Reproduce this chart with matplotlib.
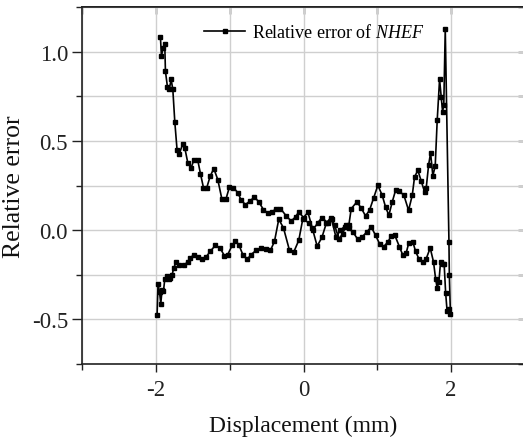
import matplotlib
matplotlib.use("Agg")
import matplotlib.pyplot as plt
from matplotlib.ticker import MultipleLocator, FormatStrFormatter
import numpy as np

plt.rcParams["font.family"] = ["Liberation Serif", "DejaVu Serif"]
plt.rcParams["mathtext.fontset"] = "custom"
plt.rcParams["mathtext.rm"] = "Liberation Serif"
plt.rcParams["mathtext.it"] = "Liberation Serif:italic"
plt.rcParams["axes.unicode_minus"] = False

# Forward sweep (-2 mm -> +2 mm)
forward_x = [-1.938, -1.924, -1.901, -1.879, -1.870, -1.843, -1.816, -1.793, -1.770,
             -1.743, -1.712, -1.680, -1.635, -1.608, -1.567, -1.522, -1.486, -1.432,
             -1.396, -1.355, -1.310, -1.264, -1.215, -1.161, -1.107, -1.048, -1.003,
             -0.949, -0.890, -0.844, -0.786, -0.722, -0.664, -0.606, -0.542, -0.484,
             -0.424, -0.370, -0.312, -0.235, -0.167, -0.108, -0.064,
             0.000, 0.060, 0.120, 0.185, 0.250, 0.310, 0.370, 0.420, 0.480, 0.530,
             0.580, 0.615, 0.646, 0.723, 0.781, 0.840, 0.894, 0.949, 1.007, 1.066,
             1.111, 1.156, 1.202, 1.247, 1.300, 1.360, 1.423, 1.473, 1.504, 1.549,
             1.595, 1.640, 1.662, 1.694, 1.721, 1.752, 1.784, 1.811, 1.843, 1.865,
             1.884, 1.900, 1.920]
forward_err = [1.083, 0.976, 1.021, 1.040, 0.890, 0.803, 0.793, 0.844, 0.789,
               0.606, 0.447, 0.429, 0.485, 0.461, 0.377, 0.349, 0.391, 0.391,
               0.317, 0.238, 0.238, 0.302, 0.345, 0.283, 0.177, 0.177, 0.242,
               0.238, 0.210, 0.167, 0.143, 0.164, 0.186, 0.158, 0.115, 0.096,
               0.102, 0.121, 0.121, 0.080, 0.051, 0.074, 0.102,
               0.070, 0.100, 0.010, -0.090, -0.040, 0.040, 0.070, 0.030, -0.050, -0.020,
               0.030, 0.030, 0.120, 0.158, 0.124, 0.080, 0.111, 0.180, 0.251, 0.195,
               0.130, 0.083, 0.158, 0.223, 0.218, 0.195, 0.111, 0.195, 0.298, 0.335,
               0.274, 0.214, 0.236, 0.363, 0.433, 0.304, 0.360, 0.616, 0.845, 0.746,
               0.663, 0.703, 1.126]

# Return sweep (+2 mm -> -2 mm)
return_x = [1.970, 1.975, 1.990, 1.965, 1.945, 1.925, 1.905, 1.888, 1.856, 1.834,
            1.810, 1.789, 1.761, 1.716, 1.662, 1.617, 1.562, 1.518, 1.481, 1.427,
            1.392, 1.346, 1.300, 1.233, 1.188, 1.143, 1.084, 1.030, 0.976, 0.917,
            0.858, 0.795, 0.736, 0.668, 0.610, 0.556, 0.500, 0.440, 0.380, 0.330,
            0.250, 0.190, 0.130, 0.070, -0.009,
            -0.064, -0.131, -0.190, -0.271, -0.335, -0.393, -0.447, -0.505, -0.573,
            -0.641, -0.709, -0.763, -0.822, -0.877, -0.921, -0.966, -1.026, -1.070,
            -1.129, -1.192, -1.264, -1.318, -1.373, -1.432, -1.486, -1.531, -1.567,
            -1.622, -1.680, -1.725, -1.757, -1.779, -1.802, -1.825, -1.852, -1.879,
            -1.897, -1.916, -1.933, -1.950, -1.970, -1.983]
return_err = [-0.066, -0.250, -0.468, -0.440, -0.455, -0.350, -0.190, -0.188, -0.178, -0.290,
              -0.324, -0.272, -0.178, -0.100, -0.160, -0.178, -0.160, -0.119, -0.066, -0.070,
              -0.126, -0.141, -0.094, -0.025, -0.033, -0.066, -0.094, -0.076, -0.029, 0.018,
              -0.010, -0.038, -0.052, -0.010, 0.010, 0.020, 0.000, -0.040, 0.060, 0.040,
              0.070, 0.040, 0.000, 0.040, 0.064,
              -0.057, -0.122, -0.113, 0.012, 0.061, -0.063, -0.113, -0.104, -0.100,
              -0.113, -0.137, -0.164, -0.137, -0.081, -0.063, -0.085, -0.137, -0.145,
              -0.100, -0.085, -0.119, -0.150, -0.164, -0.150, -0.137, -0.156, -0.178,
              -0.197, -0.197, -0.178, -0.212, -0.249, -0.266, -0.276, -0.257, -0.276,
              -0.343, -0.337, -0.412, -0.347, -0.300, -0.474]

x_ticks = [-2, 0, 2]
y_ticks = [-0.5, 0.0, 0.5, 1.0]

disp = np.array(forward_x + return_x)
err = np.array(forward_err + return_err)

fig = plt.figure(figsize=(5.23, 4.39), dpi=100)
ax = fig.add_axes([82 / 523, 74 / 439, 443 / 523, 357 / 439])

ax.plot(disp, err, color="black", lw=1.2, marker="s", ms=3.4,
        label=r"Relative error of $\it{NHEF}$", zorder=3)

ax.set_xlim(-3, 3)
ax.set_ylim(-0.75, 1.25)
ax.set_xticks(x_ticks)
ax.xaxis.set_minor_locator(MultipleLocator(1))
ax.set_yticks(y_ticks)
ax.yaxis.set_minor_locator(MultipleLocator(0.25))
ax.yaxis.set_major_formatter(FormatStrFormatter("%.1f"))

ax.grid(True, which="both", color="#cfcfcf", lw=1.0, zorder=0)
ax.set_axisbelow(True)

for s in ax.spines.values():
    s.set_linewidth(1.2)
    s.set_color("#222222")

ax.tick_params(axis="both", which="both", labelsize=16.5, colors="#222222")
ax.tick_params(axis="x", which="major", direction="out", length=6, width=1, pad=5)
ax.tick_params(axis="x", which="minor", direction="out", length=4, width=1)
ax.tick_params(axis="y", which="major", direction="out", length=7, width=1, pad=3)
ax.tick_params(axis="y", which="minor", direction="out", length=4, width=1)

# Inward ticks on the top and right edges
top = ax.secondary_xaxis("top")
top.set_xticks(x_ticks)
top.xaxis.set_minor_locator(MultipleLocator(1))
top.tick_params(which="both", direction="in", length=5, width=1, labeltop=False)
top.spines["top"].set_linewidth(1.2)
right = ax.secondary_yaxis("right")
right.set_yticks(y_ticks)
right.yaxis.set_minor_locator(MultipleLocator(0.25))
right.tick_params(which="both", direction="in", length=5, width=1, labelright=False)

ax.set_xlabel("Displacement (mm)", fontsize=17, labelpad=10.5, color="#111111")
ax.set_ylabel("Relative error", fontsize=18.5, color="#111111")
ax.yaxis.set_label_coords(-0.129, 0.5)

ax.legend(loc="center left", bbox_to_anchor=(0.275, 0.93), frameon=False,
          fontsize=13, handlelength=2.3, handletextpad=0.35, borderpad=0,
          borderaxespad=0, numpoints=1)

fig.savefig("out.png", dpi=100)
